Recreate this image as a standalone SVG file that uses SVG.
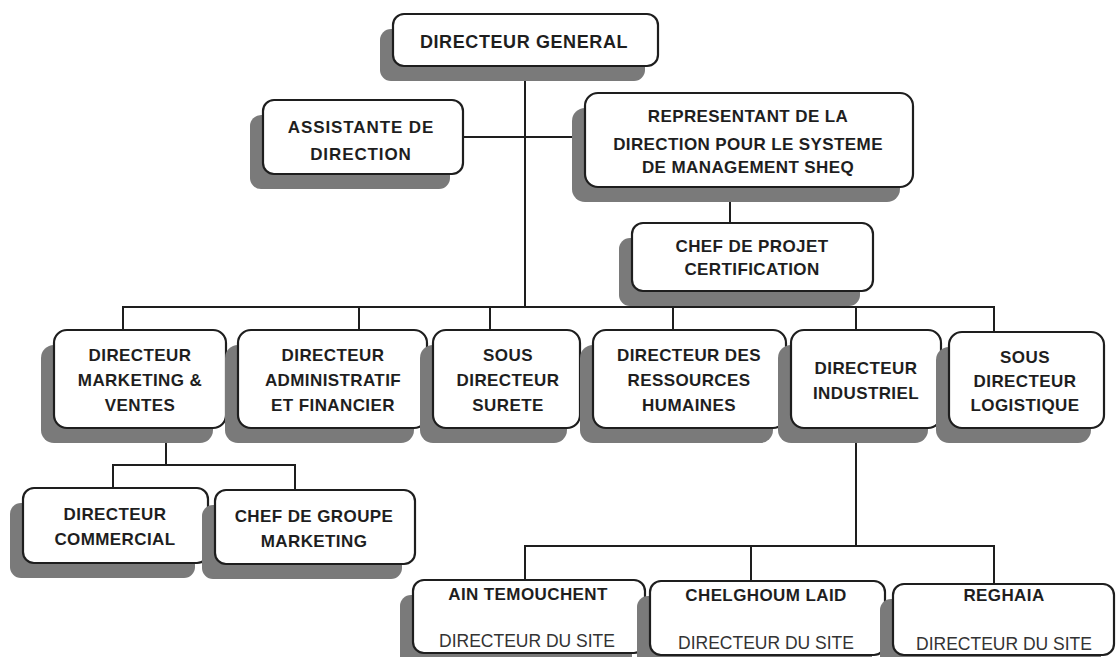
<svg xmlns="http://www.w3.org/2000/svg" width="1117" height="657" viewBox="0 0 1117 657">
<style>
.sh{fill:#7a7a7a}
.bx{fill:#fff;stroke:#1e1e1e;stroke-width:2.2}
.t{font-family:"Liberation Sans",Arial,sans-serif;font-weight:bold;font-size:17px;fill:#1e1e1e;text-anchor:middle;letter-spacing:0.4px}
.dg{font-size:18px;letter-spacing:0.6px}
.s{font-family:"Liberation Sans",Arial,sans-serif;font-size:17.5px;fill:#333;text-anchor:middle}
.ln{fill:none;stroke:#1e1e1e;stroke-width:2}
</style>
<rect width="1117" height="657" fill="#fff"/>
<g id="connectors">
<path class="ln" d="M525 66V307"/>
<path class="ln" d="M463 137H585"/>
<path class="ln" d="M730 187V223"/>
<path class="ln" d="M123 330V307H994V332"/>
<path class="ln" d="M359 307V330M490 307V330M673 307V330M856 307V330"/>
<path class="ln" d="M166 428V465"/>
<path class="ln" d="M113 488V465H295V490"/>
<path class="ln" d="M856 428V546"/>
<path class="ln" d="M525 580V546H994V584"/>
<path class="ln" d="M751 546V581"/>
</g>
<g id="dg">
<rect class="sh" x="380" y="29" width="265" height="52" rx="11"/>
<rect class="bx" x="393" y="14" width="265" height="52" rx="11"/>
<text class="t dg" x="524" y="48">DIRECTEUR GENERAL</text>
</g>
<g id="assistante">
<rect class="sh" x="250" y="115" width="200" height="74" rx="11"/>
<rect class="bx" x="263" y="100" width="200" height="74" rx="11"/>
<text class="t" x="361" y="133" style="letter-spacing:0.9px">ASSISTANTE DE</text>
<text class="t" x="361" y="160" style="letter-spacing:0.9px">DIRECTION</text>
</g>
<g id="representant">
<rect class="sh" x="572" y="108" width="328" height="94" rx="13"/>
<rect class="bx" x="585" y="93" width="328" height="94" rx="13"/>
<text class="t" x="748" y="122">REPRESENTANT DE LA</text>
<text class="t" x="748" y="150">DIRECTION POUR LE SYSTEME</text>
<text class="t" x="748" y="173">DE MANAGEMENT SHEQ</text>
</g>
<g id="chef-projet">
<rect class="sh" x="619" y="238" width="241" height="68" rx="11"/>
<rect class="bx" x="632" y="223" width="241" height="68" rx="11"/>
<text class="t" x="752" y="252">CHEF DE PROJET</text>
<text class="t" x="752" y="275">CERTIFICATION</text>
</g>
<g id="marketing">
<rect class="sh" x="41" y="345" width="172" height="98" rx="13"/>
<rect class="bx" x="54" y="330" width="172" height="98" rx="13"/>
<text class="t" x="140" y="361">DIRECTEUR</text>
<text class="t" x="140" y="386">MARKETING &amp;</text>
<text class="t" x="140" y="411">VENTES</text>
</g>
<g id="administratif">
<rect class="sh" x="225" y="345" width="189" height="98" rx="13"/>
<rect class="bx" x="238" y="330" width="189" height="98" rx="13"/>
<text class="t" x="333" y="361">DIRECTEUR</text>
<text class="t" x="333" y="386">ADMINISTRATIF</text>
<text class="t" x="333" y="411">ET FINANCIER</text>
</g>
<g id="surete">
<rect class="sh" x="420" y="345" width="147" height="98" rx="13"/>
<rect class="bx" x="433" y="330" width="147" height="98" rx="13"/>
<text class="t" x="508" y="361">SOUS</text>
<text class="t" x="508" y="386">DIRECTEUR</text>
<text class="t" x="508" y="411">SURETE</text>
</g>
<g id="rh">
<rect class="sh" x="580" y="345" width="193" height="98" rx="13"/>
<rect class="bx" x="593" y="330" width="193" height="98" rx="13"/>
<text class="t" x="689" y="361">DIRECTEUR DES</text>
<text class="t" x="689" y="386">RESSOURCES</text>
<text class="t" x="689" y="411">HUMAINES</text>
</g>
<g id="industriel">
<rect class="sh" x="778" y="345" width="150" height="98" rx="13"/>
<rect class="bx" x="791" y="330" width="150" height="98" rx="13"/>
<text class="t" x="866" y="374">DIRECTEUR</text>
<text class="t" x="866" y="399">INDUSTRIEL</text>
</g>
<g id="logistique">
<rect class="sh" x="936" y="347" width="155" height="96" rx="13"/>
<rect class="bx" x="949" y="332" width="155" height="96" rx="13"/>
<text class="t" x="1025" y="363">SOUS</text>
<text class="t" x="1025" y="387">DIRECTEUR</text>
<text class="t" x="1025" y="411">LOGISTIQUE</text>
</g>
<g id="commercial">
<rect class="sh" x="10" y="503" width="185" height="75" rx="11"/>
<rect class="bx" x="23" y="488" width="185" height="75" rx="11"/>
<text class="t" x="115" y="520">DIRECTEUR</text>
<text class="t" x="115" y="545">COMMERCIAL</text>
</g>
<g id="chef-groupe">
<rect class="sh" x="202" y="505" width="200" height="74" rx="11"/>
<rect class="bx" x="215" y="490" width="200" height="74" rx="11"/>
<text class="t" x="314" y="522">CHEF DE GROUPE</text>
<text class="t" x="314" y="547">MARKETING</text>
</g>
<g id="ain-temouchent">
<rect class="sh" x="400" y="595" width="232" height="73" rx="11"/>
<rect class="bx" x="413" y="580" width="232" height="73" rx="11"/>
<text class="t" x="528" y="600">AIN TEMOUCHENT</text>
<text class="s" x="527" y="647">DIRECTEUR DU SITE</text>
</g>
<g id="chelghoum-laid">
<rect class="sh" x="637" y="596" width="235" height="74" rx="11"/>
<rect class="bx" x="650" y="581" width="235" height="74" rx="11"/>
<text class="t" x="766" y="601">CHELGHOUM LAID</text>
<text class="s" x="766" y="649">DIRECTEUR DU SITE</text>
</g>
<g id="reghaia">
<rect class="sh" x="880" y="599" width="221" height="71" rx="11"/>
<rect class="bx" x="893" y="584" width="221" height="71" rx="11"/>
<text class="t" x="1004" y="601">REGHAIA</text>
<text class="s" x="1004" y="650">DIRECTEUR DU SITE</text>
</g>
</svg>
